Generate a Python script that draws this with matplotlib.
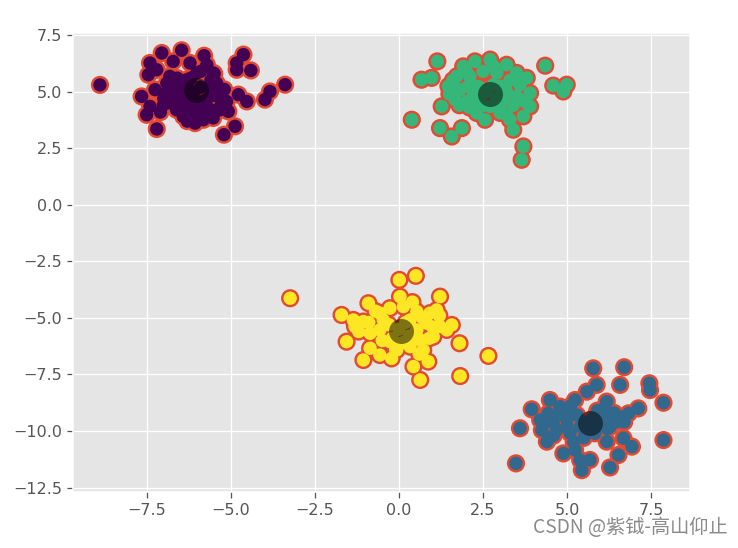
import matplotlib
matplotlib.use("Agg")
import matplotlib.pyplot as plt
import numpy as np

plt.style.use("ggplot")

# cluster 0 (purple)
c0_x = [-8.90, -7.06, -6.47, -5.80, -4.63, -4.83, -4.83, -4.41, -7.41, -7.46, -6.72, -6.22,
        -5.53, -5.72, -3.39, -3.84, -3.99, -4.53, -4.78, -7.66, -7.26, -7.51, -7.21, -6.07,
        -5.53, -4.88, -5.21, -5.13, -5.33, -5.82, -6.62, -7.01, -7.10, -6.52, -6.82, -6.62,
        -6.32, -6.02, -5.63, -5.53, -5.43, -5.72, -6.22, -6.42, -6.82, -7.21, -6.91, -6.22,
        -5.92, -7.41, -5.08, -5.28,
        -6.10, -5.90, -6.30, -5.80, -6.40, -6.00, -5.60, -6.60, -5.40, -6.20,
        -6.80, -6.50, -6.20, -5.60, -5.30, -5.50, -6.90, -6.60, -5.90, -5.20, -7.00, -6.30]
c0_y = [5.30, 6.71, 6.83, 6.59, 6.64, 6.27, 5.97, 5.94, 6.27, 5.75, 6.34, 6.27,
        5.83, 6.19, 5.31, 5.01, 4.65, 4.57, 4.87, 4.79, 5.09, 3.98, 3.35, 3.61,
        3.84, 3.47, 3.10, 4.57, 4.20, 3.76, 4.20, 4.42, 4.10, 4.79, 4.94, 5.24,
        5.53, 5.83, 4.79, 5.09, 5.38, 4.35, 4.35, 3.91, 5.68, 5.97, 5.38, 5.09,
        4.06, 4.35, 4.13, 5.01,
        5.00, 5.20, 4.80, 4.60, 5.30, 4.50, 5.50, 4.60, 4.80, 5.60,
        4.50, 4.40, 4.10, 4.20, 4.40, 5.80, 5.00, 5.60, 5.90, 5.10, 4.70, 3.70]

# cluster 1 (blue)
c1_x = [3.48, 3.60, 3.95, 4.49, 5.78, 6.70, 6.58, 7.45, 7.47, 7.87, 7.87, 7.12, 6.83,
        6.93, 6.53, 6.28, 5.68, 5.44, 4.89, 4.40, 4.25, 4.44, 4.79, 5.24, 5.59, 5.88,
        6.18, 6.58, 6.28, 6.68, 6.18, 5.83, 5.24, 5.09, 4.69, 4.99, 5.09, 4.20, 4.59,
        6.48, 6.28, 5.39, 5.98,
        5.60, 5.80, 5.40, 5.70, 5.30, 6.00, 5.50, 5.90,
        4.80, 5.00, 6.20, 6.40, 5.20, 4.60, 5.10, 6.10, 6.70, 4.30]
c1_y = [-11.43, -9.88, -9.04, -8.63, -7.23, -7.18, -7.96, -7.89, -8.19, -8.75, -10.40, -9.00, -9.22,
        -10.69, -11.06, -11.61, -11.28, -11.73, -10.99, -10.47, -9.96, -9.22, -8.92, -8.63, -8.26, -7.96,
        -8.70, -9.37, -9.29, -10.32, -10.47, -10.10, -10.84, -10.10, -9.96, -9.51, -9.00, -9.51, -9.59,
        -9.59, -9.81, -11.28, -9.37,
        -9.60, -9.40, -9.80, -9.90, -9.30, -9.70, -10.30, -9.10,
        -9.20, -9.80, -9.90, -9.20, -10.50, -10.20, -8.90, -9.00, -9.60, -9.70]

# cluster 2 (green)
c2_x = [0.38, 1.14, 0.67, 0.97, 1.27, 1.22, 1.57, 1.87, 4.35, 4.59, 4.99, 4.89, 3.70,
        3.65, 3.40, 2.71, 2.26, 1.91, 3.20, 3.50, 3.80, 3.90, 3.90, 3.70, 3.30, 3.01,
        2.56, 2.31, 2.01, 1.67, 1.47, 1.72, 2.11, 2.31, 2.91, 3.01, 3.11, 2.71, 3.50,
        3.60, 3.80, 2.41, 1.82, 2.06, 2.81,
        2.60, 2.90, 2.40, 2.80, 2.50, 3.20, 2.20, 3.00,
        1.50, 1.80, 2.10, 2.30, 3.30, 3.60, 3.40, 3.20, 2.00, 2.50, 1.60, 3.70]
c2_y = [3.76, 6.34, 5.53, 5.61, 4.35, 3.39, 3.02, 3.39, 6.15, 5.27, 5.31, 5.01, 2.58,
        1.99, 3.32, 6.42, 6.34, 6.12, 6.19, 5.83, 5.61, 4.94, 4.35, 3.91, 3.76, 4.06,
        3.76, 4.06, 4.57, 4.65, 5.24, 5.68, 5.68, 5.24, 5.83, 5.24, 4.65, 4.35, 4.79,
        5.31, 4.50, 4.65, 5.09, 5.24, 6.12,
        5.00, 4.70, 5.20, 5.30, 4.40, 5.00, 4.80, 4.30,
        4.90, 4.40, 4.30, 4.60, 5.50, 5.60, 4.40, 4.00, 5.90, 5.90, 5.50, 4.60]

# cluster 3 (yellow)
c3_x = [-3.24, 0.01, 0.50, 2.66, 1.82, 1.80, 0.63, 0.87, -1.06, -1.56, -1.71, -0.91, 0.03,
        1.22, 1.57, 1.12, 0.53, -0.57, -1.06, -1.31, -0.86, -0.57, -0.86, -0.57, -0.22, -0.07,
        -0.27, 0.33, 0.43, 0.72, 1.02, 1.22, 0.82, 0.53, 0.33, -0.47, 0.92, -1.36, -0.27,
        0.13, 1.42, 0.63,
        0.00, 0.30, -0.30, 0.20, -0.20, 0.50, -0.50, 0.10,
        -1.20, -0.90, 0.70, 0.90, 0.60, -0.10, 1.20, -0.70, 0.40, 1.00]
c3_y = [-4.13, -3.32, -3.14, -6.68, -7.57, -6.12, -7.74, -6.93, -6.86, -6.05, -4.87, -4.35, -4.06,
        -4.06, -5.31, -4.65, -4.72, -4.79, -5.16, -5.38, -5.68, -5.53, -6.34, -6.64, -6.79, -6.42,
        -6.05, -6.27, -7.15, -6.42, -5.83, -5.38, -5.23, -5.53, -5.09, -5.09, -4.79, -5.09, -4.57,
        -4.50, -5.53, -5.97,
        -5.50, -5.80, -5.30, -5.20, -5.90, -5.60, -6.00, -6.10,
        -5.60, -5.20, -5.00, -5.90, -6.60, -6.40, -4.90, -4.70, -4.30, -5.40]

centers_x = [-6.04, 5.68, 2.71, 0.06]
centers_y = [5.06, -9.63, 4.90, -5.56]

xs = np.array(c0_x + c1_x + c2_x + c3_x)
ys = np.array(c0_y + c1_y + c2_y + c3_y)
labels = np.array([0] * len(c0_x) + [1] * len(c1_x) + [2] * len(c2_x) + [3] * len(c3_x))

DPI = 115
fig = plt.figure(figsize=(738 / DPI, 548 / DPI), dpi=DPI)
ax = fig.add_axes([0.099, 0.102, 0.836, 0.838])
# red outline layer underneath, then the coloured fills on top
ax.scatter(xs, ys, c=labels, cmap="viridis", s=70, edgecolors="#E24A33", linewidths=3.0, zorder=2)
ax.scatter(xs, ys, c=labels, cmap="viridis", s=70, linewidths=0, zorder=2.5)
ax.scatter(centers_x, centers_y, c="black", s=245, alpha=0.5, linewidths=0, zorder=3)

ax.set_xlim(-9.7, 8.66)
ax.set_ylim(-12.7, 7.6)
ax.set_xticks([-7.5, -5.0, -2.5, 0.0, 2.5, 5.0, 7.5])
ax.set_yticks([-12.5, -10.0, -7.5, -5.0, -2.5, 0.0, 2.5, 5.0, 7.5])
ax.tick_params(labelsize=10, colors="#555555")

fig.text(0.986, 0.018, "CSDN @紫钺-高山仰止", ha="right", va="bottom", fontsize=12,
         color="#8a8a8a", family=["Noto Sans CJK SC", "DejaVu Sans"])

fig.savefig("out.png", dpi=DPI)
